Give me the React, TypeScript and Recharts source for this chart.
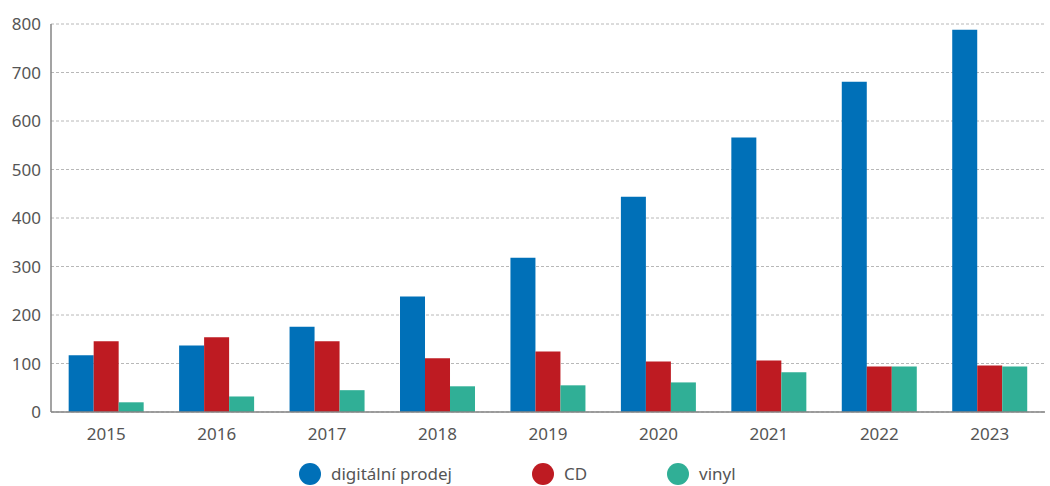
import { BarChart, Bar, XAxis, YAxis, CartesianGrid, Legend } from "recharts";

const years = ["2015", "2016", "2017", "2018", "2019", "2020", "2021", "2022", "2023"];
const digital = [117, 137, 176, 238, 318, 444, 566, 681, 788];
const cd = [146, 154, 146, 111, 125, 104, 106, 94, 96];
const vinyl = [20, 32, 45, 53, 55, 61, 82, 94, 94];
const yTicks = [0, 100, 200, 300, 400, 500, 600, 700, 800];

const series = [
  { key: "digital", label: "digitální prodej", color: "#0070B8" },
  { key: "cd", label: "CD", color: "#BE1B22" },
  { key: "vinyl", label: "vinyl", color: "#30AF96" },
];

const data = years.map((year, i) => ({
  year,
  digital: digital[i],
  cd: cd[i],
  vinyl: vinyl[i],
}));

const FONT = "'Noto Sans', sans-serif";
const TEXT = "#555555";
const AXIS = "#858585";

function LegendContent() {
  return (
    <div style={{ position: "relative", width: 1050, height: 34 }}>
      <div
        style={{
          position: "absolute",
          left: 299,
          top: 11,
          display: "flex",
          alignItems: "center",
          gap: 80,
          fontFamily: FONT,
          fontSize: 17,
          lineHeight: "22px",
          color: TEXT,
          whiteSpace: "nowrap",
        }}
      >
        {series.map((s) => (
          <div key={s.key} style={{ display: "flex", alignItems: "center" }}>
            <span
              style={{
                width: 22,
                height: 22,
                borderRadius: "50%",
                background: s.color,
                display: "inline-block",
                marginRight: 10,
              }}
            />
            <span>{s.label}</span>
          </div>
        ))}
      </div>
    </div>
  );
}

export default function App() {
  return (
    <div style={{ width: 1050, height: 486 }}>
      <style>{`body{margin:0}`}</style>
      <BarChart
        width={1050}
        height={486}
        data={data}
        margin={{ top: 24, right: 5, bottom: 0, left: 0 }}
        barCategoryGap="16%"
        barGap={0}
      >
        <CartesianGrid vertical={false} stroke="#b8b8b8" strokeDasharray="3 2" />
        <XAxis
          dataKey="year"
          height={40}
          tickLine={false}
          tickMargin={10}
          stroke={AXIS}
          strokeWidth={1.5}
          tick={{ fill: TEXT, fontSize: 17, fontFamily: FONT }}
        />
        <YAxis
          width={51}
          domain={[0, 800]}
          ticks={yTicks}
          tickLine={false}
          tickMargin={4}
          stroke={AXIS}
          strokeWidth={1.5}
          tick={{ fill: TEXT, fontSize: 17, fontFamily: FONT }}
        />
        <Legend
          verticalAlign="bottom"
          height={34}
          content={<LegendContent />}
          wrapperStyle={{ left: 0, width: 1050 }}
        />
        {series.map((s) => (
          <Bar key={s.key} dataKey={s.key} name={s.label} fill={s.color} isAnimationActive={false} />
        ))}
      </BarChart>
    </div>
  );
}
